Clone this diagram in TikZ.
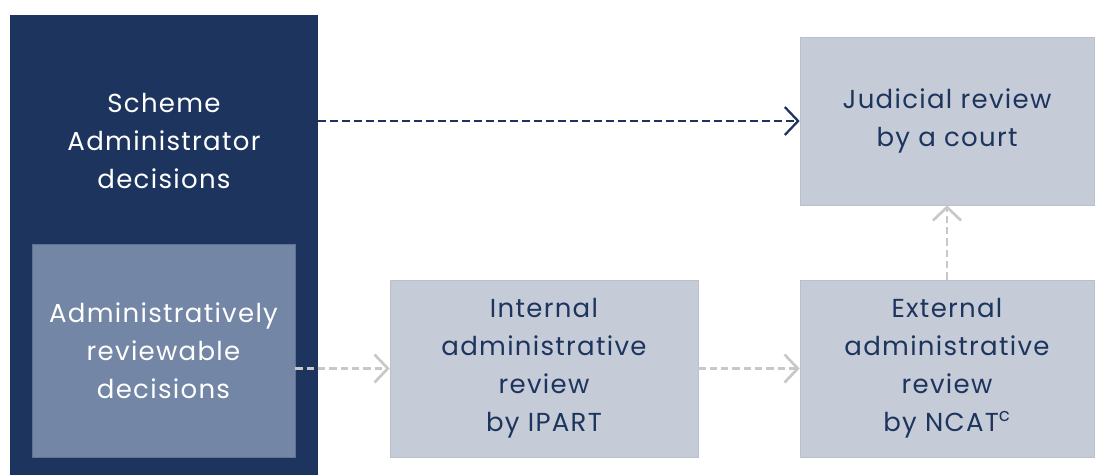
\documentclass[tikz,border=0pt]{standalone}
\usepackage{fontspec}
\setmainfont[LetterSpace=5]{Poppins}
\usepackage{xcolor}
\usepackage{tikz}
\usetikzlibrary{arrows.meta, positioning, calc}

\definecolor{navy}{HTML}{1D355E}
\definecolor{slate}{HTML}{7386A5}
\definecolor{mist}{HTML}{C6CCD7}
\definecolor{mistline}{HTML}{B9C0CC}
\definecolor{dashgrey}{HTML}{C8C8C8}

\tikzset{
    box/.style={rectangle, inner sep=0pt, align=center, font=\fontsize{19.5}{28.5}\selectfont},
    darkbox/.style={box, fill=navy, text=white},
    midbox/.style={box, fill=slate, draw=navy!70, line width=0.4pt, text=white},
    lightbox/.style={box, fill=mist, draw=mistline, line width=0.5pt, text=navy},
    darkarrow/.style={navy, line width=1.7pt, dash pattern=on 6pt off 3pt,
        -{Straight Barb[length=10pt, width=21pt, line width=1.7pt]}},
    greyarrow/.style={dashgrey, line width=2pt, dash pattern=on 5.5pt off 3pt,
        -{Straight Barb[length=10pt, width=21pt, line width=2pt]}}
}

\begin{document}
\begin{tikzpicture}[x=0.75pt, y=-0.75pt]
    % Page frame
    \useasboundingbox (0,0) rectangle (1095,475);

    % Decision boxes on the left
    \node[darkbox, minimum width=231pt, minimum height=345pt] (scheme) at (164,245) {};
    \node[box, text=white] (schemetext) at (164,141) {Scheme\\Administrator\\decisions};
    \node[midbox, minimum width=197.25pt, minimum height=159.75pt] (admin) at (163.5,350.5)
        {Administratively\\reviewable\\decisions};

    % Review boxes
    \node[lightbox, minimum width=220.5pt, minimum height=126pt] (judicial) at (947,121)
        {Judicial review\\by a court};
    \node[lightbox, minimum width=231pt, minimum height=132.75pt] (internal) at (544,368.5)
        {Internal\\administrative\\review\\by IPART};
    \node[lightbox, minimum width=220.5pt, minimum height=132.75pt] (external) at (947,368.5)
        {External\\administrative\\review\\by NCAT\textsuperscript{c}};

    % Review paths
    \draw[darkarrow] (scheme.east |- judicial.west) -- (judicial.west);
    \draw[greyarrow] (admin.east |- internal.west) -- (internal.west);
    \draw[greyarrow] (internal.east) -- (external.west);
    \draw[greyarrow] (external.north) -- (judicial.south);
\end{tikzpicture}
\end{document}
